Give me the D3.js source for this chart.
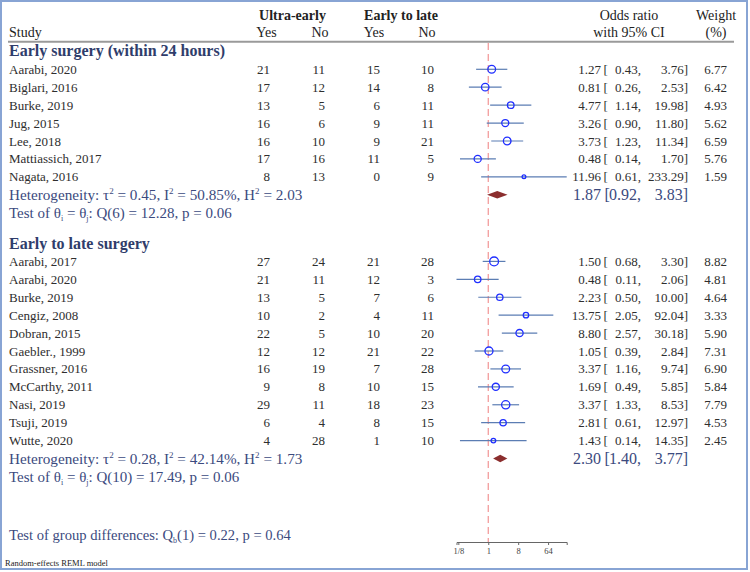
<!DOCTYPE html>
<html><head><meta charset="utf-8">
<script src="https://cdn.jsdelivr.net/npm/d3@7"></script>
<style>body{margin:0;background:#fff}svg{display:block}</style>
</head><body><div id="chart"></div>
<script>
// ---------- data ----------
const studies1 = ["Aarabi, 2020","Biglari, 2016","Burke, 2019","Jug, 2015","Lee, 2018","Mattiassich, 2017","Nagata, 2016"];
const ueYes1 = [21,17,13,16,16,17,8];
const ueNo1  = [11,12,5,6,10,16,13];
const elYes1 = [15,14,6,9,9,11,0];
const elNo1  = [10,8,11,11,21,5,9];
const or1 = [1.27,0.81,4.77,3.26,3.73,0.48,11.96];
const lo1 = [0.43,0.26,1.14,0.90,1.23,0.14,0.61];
const hi1 = [3.76,2.53,19.98,11.80,11.34,1.70,233.29];
const w1  = [6.77,6.42,4.93,5.62,6.59,5.76,1.59];

const studies2 = ["Aarabi, 2017","Aarabi, 2020","Burke, 2019","Cengiz, 2008","Dobran, 2015","Gaebler., 1999","Grassner, 2016","McCarthy, 2011","Nasi, 2019","Tsuji, 2019","Wutte, 2020"];
const ueYes2 = [27,21,13,10,22,12,16,9,29,6,4];
const ueNo2  = [24,11,5,2,5,12,19,8,11,4,28];
const elYes2 = [21,12,7,4,10,21,7,10,18,8,1];
const elNo2  = [28,3,6,11,20,22,28,15,23,15,10];
const or2 = [1.50,0.48,2.23,13.75,8.80,1.05,3.37,1.69,3.37,2.81,1.43];
const lo2 = [0.68,0.11,0.50,2.05,2.57,0.39,1.16,0.49,1.33,0.61,0.14];
const hi2 = [3.30,2.06,10.00,92.04,30.18,2.84,9.74,5.85,8.53,12.97,14.35];
const w2  = [8.82,4.81,4.64,3.33,5.90,7.31,6.90,5.84,7.79,4.53,2.45];

const groupTitles = ["Early surgery (within 24 hours)","Early to late surgery"];
const overallOR = [1.87,2.30];
const overallLo = [0.92,1.40];
const overallHi = [3.83,3.77];
const hetTau2 = ["0.45","0.28"];
const hetI2 = ["50.85%","42.14%"];
const hetH2 = ["2.03","1.73"];
const qDf = ["6","10"];
const qVal = ["12.28","17.49"];
const qP = ["0.06","0.06"];
const groupDiff = {df:"1", q:"0.22", p:"0.64"};

const tickVals = [1/8,1,8,64];
const tickLabels = ["1/8","1","8","64"];

// ---------- setup ----------
const W=750,H=572;
const FONT = "'Liberation Serif', 'Times New Roman', serif";
const TXT = "#2e2e2e", NAVY="#2f3d6b", NAVY2="#3b4a7e";
const svg = d3.select("#chart").append("svg").attr("width",W).attr("height",H)
  .style("font-family",FONT);

// frame
svg.append("rect").attr("x",1).attr("y",1).attr("width",746).attr("height",568)
  .attr("fill","none").attr("stroke","#88a4d4").attr("stroke-width",2);

const allLo = lo1.concat(lo2), allHi = hi1.concat(hi2);
const x = d3.scaleLog().base(2).domain([d3.min(allLo), d3.max(allHi)]).range([456.5,566.7]);
const row = d3.scaleLinear().domain([0,1]).range([69.3,87.22]);
const r = d3.scaleSqrt().domain([0,d3.max(w1.concat(w2))]).range([0,4.4]);

const colUY=270, colUN=325, colEY=380, colEN=434;
const colOR=601, colBr=603.5, colLo=641, colHi=688, colW=727;

function txt(xp, yp, s, opts={}) {
  return svg.append("text").attr("x",xp).attr("y",yp).attr("dy","0.35em")
    .attr("text-anchor",opts.anchor||"start")
    .attr("font-size",opts.size||13)
    .attr("font-weight",opts.bold?"bold":"normal")
    .attr("fill",opts.fill||TXT).text(s);
}

// header
txt(292.5,15.5,"Ultra-early",{bold:true,size:14,anchor:"middle",fill:"#222"});
txt(401,15.5,"Early to late",{bold:true,size:14,anchor:"middle",fill:"#222"});
txt(9,32.5,"Study",{size:14,fill:"#222"});
txt(266.5,32.5,"Yes",{size:14,anchor:"middle",fill:"#222"});
txt(320,32.5,"No",{size:14,anchor:"middle",fill:"#222"});
txt(374,32.5,"Yes",{size:14,anchor:"middle",fill:"#222"});
txt(427,32.5,"No",{size:14,anchor:"middle",fill:"#222"});
txt(629,15.5,"Odds ratio",{size:14,anchor:"middle",fill:"#222"});
txt(629,32.5,"with 95% CI",{size:14,anchor:"middle",fill:"#222"});
txt(716,15.5,"Weight",{size:14,anchor:"middle",fill:"#222"});
txt(716,32.5,"(%)",{size:14,anchor:"middle",fill:"#222"});
svg.append("line").attr("x1",8).attr("x2",734).attr("y1",41.7).attr("y2",41.7)
  .attr("stroke","#9a9a9a").attr("stroke-width",2);

// reference line at OR=1
svg.append("line").attr("x1",x(1)).attr("x2",x(1)).attr("y1",43).attr("y2",542)
  .attr("stroke","#f29494").attr("stroke-width",1.2).attr("stroke-dasharray","7,4");

const groups = [
  {title:groupTitles[0], studies:studies1, uy:ueYes1, un:ueNo1, ey:elYes1, en:elNo1, or:or1, lo:lo1, hi:hi1, w:w1, start:0},
  {title:groupTitles[1], studies:studies2, uy:ueYes2, un:ueNo2, ey:elYes2, en:elNo2, or:or2, lo:lo2, hi:hi2, w:w2, start:10.72}
];

groups.forEach((g,gi)=>{
  txt(9,row(g.start-1)-0.5,g.title,{bold:true,size:16,fill:NAVY});
  g.studies.forEach((s,i)=>{
    const yy=row(g.start+i);
    txt(9,yy,s);
    txt(colUY,yy,g.uy[i],{anchor:"end"});
    txt(colUN,yy,g.un[i],{anchor:"end"});
    txt(colEY,yy,g.ey[i],{anchor:"end"});
    txt(colEN,yy,g.en[i],{anchor:"end"});
    txt(colOR,yy,g.or[i].toFixed(2),{anchor:"end"});
    txt(colBr,yy,"[");
    txt(colLo,yy,g.lo[i].toFixed(2)+",",{anchor:"end"});
    txt(colHi,yy,g.hi[i].toFixed(2)+"]",{anchor:"end"});
    txt(colW,yy,g.w[i].toFixed(2),{anchor:"end"});
    svg.append("line").attr("x1",x(g.lo[i])).attr("x2",x(g.hi[i])).attr("y1",yy).attr("y2",yy)
      .attr("stroke","#5b7db3").attr("stroke-width",1.2);
    svg.append("circle").attr("cx",x(g.or[i])).attr("cy",yy).attr("r",r(g.w[i]))
      .attr("fill","none").attr("stroke","#1f2eff").attr("stroke-width",1.3);
  });
  const n=g.studies.length;
  const yh=row(g.start+n), yt=row(g.start+n+1);
  // heterogeneity
  const th = svg.append("text").attr("x",9).attr("y",yh).attr("dy","0.35em").attr("font-size",15.2).attr("fill",NAVY2);
  th.append("tspan").text("Heterogeneity: τ");
  th.append("tspan").attr("dy",-6).attr("font-size",9).text("2");
  th.append("tspan").attr("dy",6).text(" = "+hetTau2[gi]+", I");
  th.append("tspan").attr("dy",-6).attr("font-size",9).text("2");
  th.append("tspan").attr("dy",6).text(" = "+hetI2[gi]+", H");
  th.append("tspan").attr("dy",-6).attr("font-size",9).text("2");
  th.append("tspan").attr("dy",6).text(" = "+hetH2[gi]);
  const tq = svg.append("text").attr("x",9).attr("y",yt).attr("dy","0.35em").attr("font-size",15).attr("fill",NAVY2);
  tq.append("tspan").text("Test of θ");
  tq.append("tspan").attr("dy",3).attr("font-size",8).text("i");
  tq.append("tspan").attr("dy",-3).text(" = θ");
  tq.append("tspan").attr("dy",3).attr("font-size",8).text("j");
  tq.append("tspan").attr("dy",-3).text(": Q("+qDf[gi]+") = "+qVal[gi]+", p = "+qP[gi]);
  // overall diamond
  const xl=x(overallLo[gi]), xm=x(overallOR[gi]), xr=x(overallHi[gi]);
  svg.append("path").attr("d",`M${xl},${yh}L${xm},${yh-3.8}L${xr},${yh}L${xm},${yh+3.8}Z`)
    .attr("fill","#8b2e2e");
  txt(colOR,yh,overallOR[gi].toFixed(2),{anchor:"end",size:16,fill:NAVY2});
  txt(colBr+1,yh,"[",{size:16,fill:NAVY2});
  txt(colLo,yh,overallLo[gi].toFixed(2)+",",{anchor:"end",size:16,fill:NAVY2});
  txt(colHi,yh,overallHi[gi].toFixed(2)+"]",{anchor:"end",size:16,fill:NAVY2});
});

// group differences
const gd = svg.append("text").attr("x",9).attr("y",row(26)).attr("dy","0.35em").attr("font-size",14.6).attr("fill",NAVY2);
gd.append("tspan").text("Test of group differences: Q");
gd.append("tspan").attr("dy",3).attr("font-size",8).text("b");
gd.append("tspan").attr("dy",-3).text("("+groupDiff.df+") = "+groupDiff.q+", p = "+groupDiff.p);

// axis
const axis = d3.axisBottom(x).tickValues(tickVals).tickFormat((d,i)=>tickLabels[i]).tickSizeOuter(0).tickSize(3).tickPadding(3);
const ag = svg.append("g").attr("transform","translate(0,542)").call(axis);
ag.select(".domain").attr("stroke","#666");
ag.selectAll(".tick line").attr("stroke","#666");
ag.selectAll(".tick text").attr("font-family",FONT).attr("font-size",8.5).attr("fill","#444");

// note
txt(5,563.5,"Random-effects REML model",{size:8.5,fill:"#222"});
</script>
</body></html>
